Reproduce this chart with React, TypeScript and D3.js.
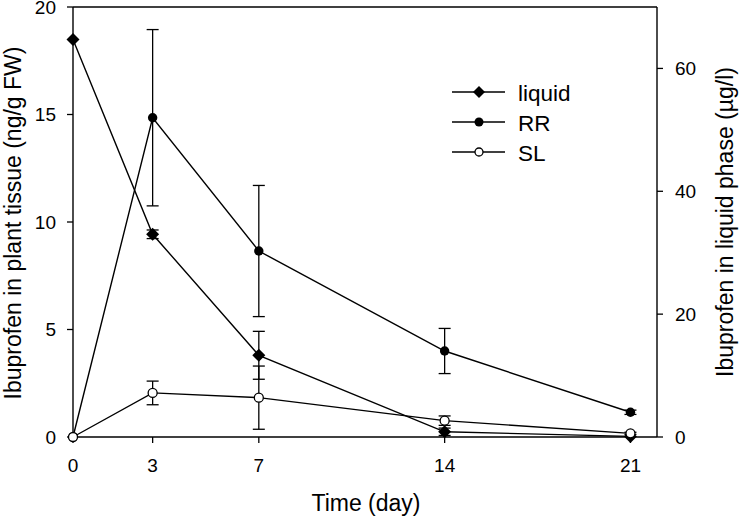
import React from "react";
import * as d3 from "d3";

const days = [0, 3, 7, 14, 21];
const xTicks = [0, 3, 7, 14, 21];
const leftTicks = [0, 5, 10, 15, 20];
const rightTicks = [0, 20, 40, 60];

// liquid phase (µg/l), right axis
const liquidVals = [64.7, 33.0, 13.3, 0.85, 0.1];
const liquidErr = [0, 0.7, 3.9, 0.6, 0];
// plant tissue (ng/g FW), left axis
const rrVals = [0, 14.85, 8.65, 4.0, 1.15];
const rrErr = [0, 4.1, 3.05, 1.05, 0.1];
const slVals = [0, 2.05, 1.83, 0.76, 0.17];
const slErr = [0, 0.55, 1.47, 0.22, 0.05];

const legendLabels = ["liquid", "RR", "SL"];

const W = 741, H = 518;
const L = 73, R = 657, T = 7, B = 437;
const FONT = "'Liberation Sans', Arial, Helvetica, sans-serif";

export default function App() {
  const x = d3.scaleLinear().domain([0, 22]).range([L, R]);
  const yL = d3.scaleLinear().domain([0, 20]).range([B, T]);
  const yR = d3.scaleLinear().domain([0, 70]).range([B, T]);

  const lineL = d3.line<number>().x((_, i) => x(days[i])).y((d) => yL(d));
  const lineR = d3.line<number>().x((_, i) => x(days[i])).y((d) => yR(d));

  const diamond = (cx: number, cy: number, s = 6.5) =>
    `M${cx},${cy - s}L${cx + s},${cy}L${cx},${cy + s}L${cx - s},${cy}Z`;

  const errBars = (vals: number[], errs: number[], y: d3.ScaleLinear<number, number>, key: string) =>
    vals.map((v, i) => {
      if (!errs[i]) return null;
      const cx = x(days[i]);
      const y1 = y(v + errs[i]);
      const y2 = y(Math.max(v - errs[i], 0));
      return (
        <g key={key + i} stroke="#000" strokeWidth={1.3}>
          <line x1={cx} x2={cx} y1={y1} y2={y2} />
          <line x1={cx - 6} x2={cx + 6} y1={y1} y2={y1} />
          <line x1={cx - 6} x2={cx + 6} y1={y2} y2={y2} />
        </g>
      );
    });

  const legY = [92, 122, 152];

  return (
    <svg width={W} height={H} style={{ position: "absolute", left: 0, top: 0, background: "#fff" }} fontFamily={FONT}>
      <rect x={0} y={0} width={W} height={H} fill="#fff" />
      {/* frame */}
      <g stroke="#000" strokeWidth={1.4} fill="none">
        <line x1={L} x2={R} y1={T} y2={T} />
        <line x1={L} x2={R} y1={B} y2={B} />
        <line x1={L} x2={L} y1={T} y2={B} />
        <line x1={R} x2={R} y1={T} y2={B} />
      </g>
      {/* x ticks */}
      {xTicks.map((t) => (
        <g key={"x" + t}>
          <line x1={x(t)} x2={x(t)} y1={B} y2={B + 6} stroke="#000" strokeWidth={1.3} />
          <text x={x(t)} y={472} textAnchor="middle" fontSize={19}>{t}</text>
        </g>
      ))}
      {/* left ticks */}
      {leftTicks.map((t) => (
        <g key={"l" + t}>
          <line x1={L - 6} x2={L} y1={yL(t)} y2={yL(t)} stroke="#000" strokeWidth={1.3} />
          <text x={56} y={yL(t) + 6.8} textAnchor="end" fontSize={19}>{t}</text>
        </g>
      ))}
      {/* right ticks */}
      {rightTicks.map((t) => (
        <g key={"r" + t}>
          <line x1={R} x2={R + 6} y1={yR(t)} y2={yR(t)} stroke="#000" strokeWidth={1.3} />
          <text x={675} y={yR(t) + 6.8} textAnchor="start" fontSize={19}>{t}</text>
        </g>
      ))}
      {/* axis titles */}
      <text x={366} y={511} textAnchor="middle" fontSize={23}>Time (day)</text>
      <text transform={`translate(21,${223}) rotate(-90)`} textAnchor="middle" fontSize={23}>
        Ibuprofen in plant tissue (ng/g FW)
      </text>
      <text transform={`translate(733,${222}) rotate(-90)`} textAnchor="middle" fontSize={23}>
        Ibuprofen in liquid phase (µg/l)
      </text>

      {/* error bars */}
      {errBars(liquidVals, liquidErr, yR, "le")}
      {errBars(rrVals, rrErr, yL, "re")}
      {errBars(slVals, slErr, yL, "se")}

      {/* lines */}
      <path d={lineR(liquidVals) || ""} fill="none" stroke="#000" strokeWidth={1.4} />
      <path d={lineL(rrVals) || ""} fill="none" stroke="#000" strokeWidth={1.4} />
      <path d={lineL(slVals) || ""} fill="none" stroke="#000" strokeWidth={1.4} />

      {/* markers */}
      {liquidVals.map((v, i) => (
        <path key={"lm" + i} d={diamond(x(days[i]), yR(v))} fill="#000" />
      ))}
      {rrVals.map((v, i) => (
        <circle key={"rm" + i} cx={x(days[i])} cy={yL(v)} r={4.7} fill="#000" />
      ))}
      {slVals.map((v, i) => (
        <circle key={"sm" + i} cx={x(days[i])} cy={yL(v)} r={4.5} fill="#fff" stroke="#000" strokeWidth={1.3} />
      ))}

      {/* legend */}
      {legendLabels.map((lab, i) => (
        <g key={"lg" + i}>
          <line x1={452} x2={505} y1={legY[i]} y2={legY[i]} stroke="#000" strokeWidth={1.4} />
          {i === 0 && <path d={diamond(479, legY[i], 6)} fill="#000" />}
          {i === 1 && <circle cx={479} cy={legY[i]} r={4.5} fill="#000" />}
          {i === 2 && <circle cx={479} cy={legY[i]} r={4} fill="#fff" stroke="#000" strokeWidth={1.3} />}
          <text x={518} y={legY[i] + 8.5} fontSize={22.5}>{lab}</text>
        </g>
      ))}
    </svg>
  );
}
